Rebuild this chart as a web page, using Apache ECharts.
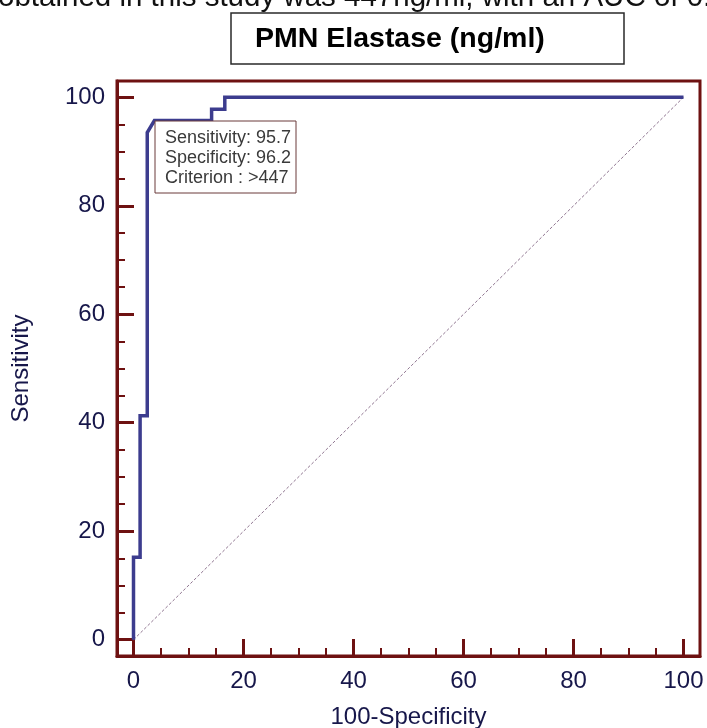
<!DOCTYPE html>
<html>
<head>
<meta charset="utf-8">
<script src="https://cdn.jsdelivr.net/npm/echarts@6/dist/echarts.min.js"></script>
<style>
  html, body { margin: 0; padding: 0; background: #fff; }
  #rocChart { width: 707px; height: 728px; }
</style>
</head>
<body>
<div id="rocChart"></div>
<script>
// ROC curve steps (100-Specificity, Sensitivity)
const rocX = [0, 0, 1.2, 1.2, 2.5, 2.5, 3.8, 14.2, 14.2, 16.6, 16.6, 100];
const rocY = [0, 15.2, 15.2, 41.3, 41.3, 93.5, 95.7, 95.7, 97.8, 97.8, 100, 100];
// reference diagonal
const refX = [0, 100];
const refY = [0, 100];
// axis ticks
const majorTicks = [0, 20, 40, 60, 80, 100];
const minorTicks = [5, 10, 15, 25, 30, 35, 45, 50, 55, 65, 70, 75, 85, 90, 95];
// cut-off box
const cutoffLines = ['Sensitivity: 95.7', 'Specificity: 96.2', 'Criterion : >447'];

const frameColor = '#6e1111';
const labelColor = '#17174a';
const curveColor = '#3c3c8e';
const font = '"Liberation Sans", Arial, sans-serif';

const chartInstance = echarts.init(document.getElementById('rocChart'));

const makeAxes = (isX) => {
  const name = isX ? '100-Specificity' : 'Sensitivity';
  return [
    {
      type: 'value',
      min: -3,
      max: 103,
      position: isX ? 'bottom' : 'left',
      name: name,
      nameLocation: 'middle',
      nameGap: isX ? 49 : 84,
      nameTextStyle: { color: labelColor, fontSize: 24, fontFamily: font },
      axisLine: { onZero: false, lineStyle: { color: frameColor, width: 3 } },
      axisTick: {
        inside: true,
        length: 17,
        customValues: majorTicks,
        lineStyle: { color: frameColor, width: 3 }
      },
      axisLabel: {
        customValues: majorTicks,
        color: labelColor,
        fontSize: 24,
        fontFamily: font,
        margin: isX ? 13 : 12
      },
      splitLine: { show: false }
    },
    {
      type: 'value',
      min: -3,
      max: 103,
      position: isX ? 'bottom' : 'left',
      axisLine: { show: false, onZero: false },
      axisTick: {
        inside: true,
        length: 8,
        customValues: minorTicks,
        lineStyle: { color: frameColor, width: 2 }
      },
      axisLabel: { show: false },
      splitLine: { show: false }
    }
  ];
};

const option = {
  animation: false,
  backgroundColor: '#fff',
  grid: {
    left: 117,
    right: 7,
    top: 81,
    bottom: 72,
    outerBoundsMode: 'none',
    containLabel: false,
    show: true,
    borderColor: frameColor,
    borderWidth: 3
  },
  xAxis: makeAxes(true),
  yAxis: makeAxes(false),
  series: [
    {
      name: 'Reference',
      type: 'line',
      symbol: 'none',
      data: refX.map((x, i) => [x, refY[i]]),
      lineStyle: { color: '#8f7590', width: 1, type: [3, 2] },
      z: 2
    },
    {
      name: 'ROC',
      type: 'line',
      symbol: 'none',
      data: rocX.map((x, i) => [x, rocY[i]]),
      lineStyle: { color: curveColor, width: 3.5, join: 'miter' },
      z: 3
    }
  ],
  graphic: [
    {
      type: 'text',
      left: -2,
      top: -17,
      style: {
        text: 'obtained in this study was 447ng/ml, with an AUC of 0.985',
        font: '29.5px ' + font,
        fill: '#111'
      }
    },
    {
      type: 'rect',
      shape: { x: 231, y: 13, width: 393, height: 51 },
      style: { fill: '#fff', stroke: '#2a2a2a', lineWidth: 1.5 }
    },
    {
      type: 'text',
      x: 255,
      y: 39,
      style: {
        text: 'PMN Elastase (ng/ml)',
        font: 'bold 28.5px ' + font,
        fill: '#000',
        verticalAlign: 'middle'
      }
    },
    {
      type: 'rect',
      z: 10,
      shape: { x: 155, y: 121, width: 141, height: 72 },
      style: { fill: '#fff', stroke: '#6b3a3a', lineWidth: 1 }
    },
    {
      type: 'text',
      z: 11,
      x: 165,
      y: 128,
      style: {
        text: cutoffLines.join('\n'),
        font: '18px ' + font,
        lineHeight: 20,
        fill: '#3a3a3a',
        verticalAlign: 'top'
      }
    }
  ]
};

chartInstance.setOption(option);
</script>
</body>
</html>
